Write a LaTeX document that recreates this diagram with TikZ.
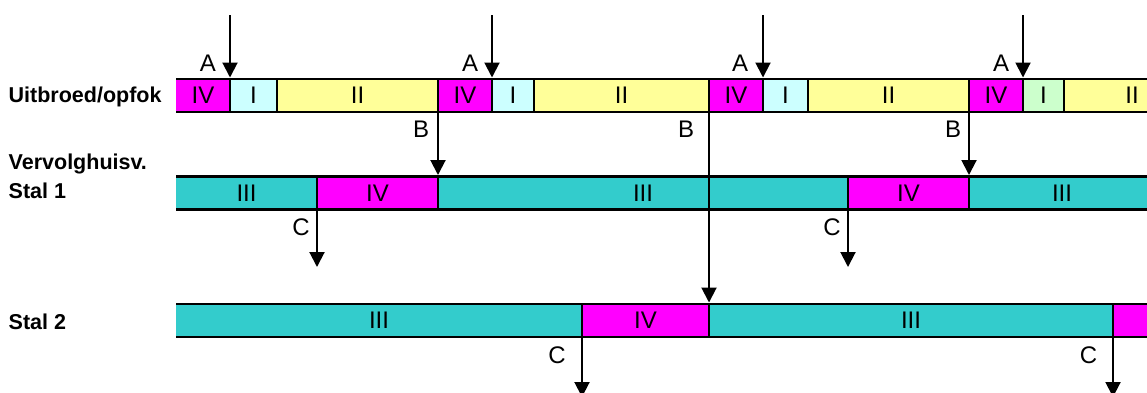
\documentclass[tikz,border=0pt]{standalone}
\usepackage{fontspec}
\setmainfont{Liberation Sans}
\usetikzlibrary{arrows.meta}
\definecolor{mag}{HTML}{FF00FF}
\definecolor{lcyan}{HTML}{CCFFFF}
\definecolor{lyel}{HTML}{FFFF99}
\definecolor{lgrn}{HTML}{CCFFCC}
\definecolor{tealc}{HTML}{33CCCC}
\tikzset{
  segbox/.style={inner sep=0pt, outer sep=0pt, font=\fontsize{24}{28}\selectfont},
  barline/.style={line width=2.7pt},
  sepline/.style={line width=2pt},
  arr/.style={line width=2pt, -{Triangle[length=15pt,width=15pt]}},
  rowlabel/.style={anchor=base west, inner sep=0pt, font=\fontsize{21.5}{26}\selectfont\bfseries},
  letter/.style={inner sep=0pt, font=\fontsize{24}{28}\selectfont},
}
\newcommand\seg[7]{%
  \node[segbox, fill=#6, minimum width={(#3-#2)*1pt}, minimum height={(#5-#4)*1pt}]
    (#1) at ({(#2+#3)/2},{(#4+#5)/2}) {#7};}
\begin{document}
\begin{tikzpicture}[x=1pt,y=-1pt]
\useasboundingbox (0,0) rectangle (1147,392);
\clip (0,0) rectangle (1147,392);
% row 1
\seg{r1a}{176}{230}{79}{112}{mag}{IV}
\seg{r1b}{230}{277}{79}{112}{lcyan}{I}
\seg{r1c}{277}{438}{79}{112}{lyel}{II}
\seg{r1d}{438}{492}{79}{112}{mag}{IV}
\seg{r1e}{492}{534}{79}{112}{lcyan}{I}
\seg{r1f}{534}{709}{79}{112}{lyel}{II}
\seg{r1g}{709}{763}{79}{112}{mag}{IV}
\seg{r1h}{763}{808}{79}{112}{lcyan}{I}
\seg{r1i}{808}{969}{79}{112}{lyel}{II}
\seg{r1j}{969}{1023}{79}{112}{mag}{IV}
\seg{r1k}{1023}{1064}{79}{112}{lgrn}{I}
\seg{r1l}{1064}{1200}{79}{112}{lyel}{II}
% row 2
\seg{r2a}{176}{317}{176.5}{209.5}{tealc}{III}
\seg{r2b}{317}{438}{176.5}{209.5}{mag}{IV}
\seg{r2c}{438}{848}{176.5}{209.5}{tealc}{III}
\seg{r2d}{848}{969}{176.5}{209.5}{mag}{IV}
\seg{r2e}{969}{1155}{176.5}{209.5}{tealc}{III}
% row 3
\seg{r3a}{176}{582}{304}{337}{tealc}{III}
\seg{r3b}{582}{709}{304}{337}{mag}{IV}
\seg{r3c}{709}{1113}{304}{337}{tealc}{III}
\seg{r3d}{1113}{1250}{304}{337}{mag}{}
% separators
\foreach \n in {r1b,r1c,r1d,r1e,r1f,r1g,r1h,r1i,r1j,r1k,r1l,r2b,r2c,r2d,r2e,r3b,r3c,r3d}
  \draw[sepline] (\n.north west) -- (\n.south west);
% bar lines
\draw[barline] (r1a.north west) -- (r1l.north east);
\draw[barline] (r1a.south west) -- (r1l.south east);
\draw[barline] (r2a.north west) -- (r2e.north east);
\draw[barline] (r2a.south west) -- (r2e.south east);
\draw[barline] (r3a.north west) -- (r3d.north east);
\draw[barline] (r3a.south west) -- (r3d.south east);
% row labels
\node[rowlabel] (lab1) at (8.5,102.3) {Uitbroed/opfok};
\node[rowlabel] (lab2) at (8.5,169) {Vervolghuisv.};
\node[rowlabel] (lab3) at (8.5,198) {Stal 1};
\node[rowlabel] (lab4) at (8.5,329.3) {Stal 2};
% A arrows
\coordinate (a1) at (230,15);
\coordinate (a2) at (492,15);
\coordinate (a3) at (763,15);
\coordinate (a4) at (1023,15);
\draw[arr] (a1) -- ([yshift=1.5pt]r1b.north west);
\draw[arr] (a2) -- ([yshift=1.5pt]r1e.north west);
\draw[arr] (a3) -- ([yshift=1.5pt]r1h.north west);
\draw[arr] (a4) -- ([yshift=1.5pt]r1k.north west);
\node[letter] (la1) at (208,63) {A};
\node[letter] (la2) at (470,63) {A};
\node[letter] (la3) at (740,63) {A};
\node[letter] (la4) at (1001,63) {A};
% B arrows
\draw[arr] (r1d.south west) -- ([yshift=1.5pt]r2c.north west);
\draw[arr] (r1g.south west) -- ([yshift=1.5pt]r3c.north west);
\draw[arr] (r1j.south west) -- ([yshift=1.5pt]r2e.north west);
\node[letter] (lb1) at (421,129) {B};
\node[letter] (lb2) at (686,129) {B};
\node[letter] (lb3) at (953,129) {B};
% C arrows
\coordinate (c1) at (317,267);
\coordinate (c2) at (848,267);
\coordinate (c3) at (582,397);
\coordinate (c4) at (1113,397);
\draw[arr] (r2b.south west) -- (c1);
\draw[arr] (r2d.south west) -- (c2);
\draw[arr] (r3b.south west) -- (c3);
\draw[arr] (r3d.south west) -- (c4);
\node[letter] (lc1) at (301,227) {C};
\node[letter] (lc2) at (832,227) {C};
\node[letter] (lc3) at (557,355) {C};
\node[letter] (lc4) at (1088.5,355) {C};
\end{tikzpicture}
\end{document}
